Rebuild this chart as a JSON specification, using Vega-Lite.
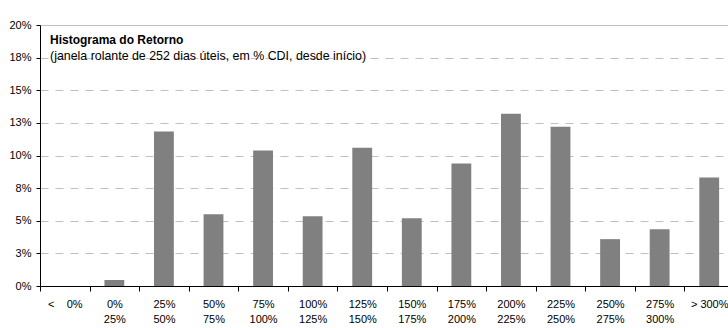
{
  "$schema": "https://vega.github.io/schema/vega-lite/v6.json",
  "autosize": "none",
  "padding": {"left": 40, "top": 25, "right": 0, "bottom": 42},
  "width": 694,
  "height": 261,
  "background": "white",
  "title": {
    "text": "\u00a0\u00a0Histograma do Retorno",
    "subtitle": "(janela rolante de 252 dias úteis, em % CDI, desde início)",
    "anchor": "start",
    "frame": "group",
    "orient": "top",
    "font": "Liberation Sans",
    "fontSize": 12,
    "fontWeight": "bold",
    "color": "#000000",
    "subtitleFont": "Liberation Sans",
    "subtitleFontSize": 12.4,
    "subtitleColor": "#000000",
    "subtitlePadding": 3,
    "baseline": "top",
    "dx": 10,
    "dy": 44,
    "offset": 0
  },
  "data": {
    "values": [
      {"faixa": "<\u00a0\u00a0\u00a0\u00a00%", "freq": 0.0},
      {"faixa": "0%|25%", "freq": 0.0046},
      {"faixa": "25%|50%", "freq": 0.1183},
      {"faixa": "50%|75%", "freq": 0.055},
      {"faixa": "75%|100%", "freq": 0.1038},
      {"faixa": "100%|125%", "freq": 0.0534},
      {"faixa": "125%|150%", "freq": 0.106},
      {"faixa": "150%|175%", "freq": 0.052},
      {"faixa": "175%|200%", "freq": 0.0939},
      {"faixa": "200%|225%", "freq": 0.132},
      {"faixa": "225%|250%", "freq": 0.122},
      {"faixa": "250%|275%", "freq": 0.0359},
      {"faixa": "275%|300%", "freq": 0.0435},
      {"faixa": ">\u00a0300%", "freq": 0.0832}
    ]
  },
  "mark": {"type": "bar", "color": "#808080", "width": {"band": 0.4}},
  "encoding": {
    "x": {
      "field": "faixa",
      "type": "nominal",
      "sort": null,
      "scale": {"paddingInner": 0, "paddingOuter": 0},
      "axis": {
        "title": null,
        "labelAngle": 0,
        "labelExpr": "split(datum.label, '|')",
        "labelFont": "Liberation Sans",
        "labelFontSize": 11,
        "labelColor": "#000000",
        "labelPadding": 7,
        "labelLineHeight": 15,
        "tickBand": "extent",
        "tickColor": "#000000",
        "tickSize": 5,
        "domainColor": "#000000",
        "grid": false
      }
    },
    "y": {
      "field": "freq",
      "type": "quantitative",
      "scale": {"domain": [0, 0.2], "nice": false},
      "axis": {
        "title": null,
        "values": [0, 0.025, 0.05, 0.075, 0.1, 0.125, 0.15, 0.175, 0.2],
        "format": ".0%",
        "labelFont": "Liberation Sans",
        "labelFontSize": 11,
        "labelColor": "#000000",
        "labelPadding": 5,
        "tickColor": "#000000",
        "tickSize": 4,
        "domainColor": "#000000",
        "grid": true,
        "gridColor": "#c0c0c0",
        "gridDash": {"condition": {"test": "datum.value >= 0.2", "value": []}, "value": [8, 7]},
        "gridOpacity": 1
      }
    }
  },
  "config": {"view": {"stroke": null}}
}
